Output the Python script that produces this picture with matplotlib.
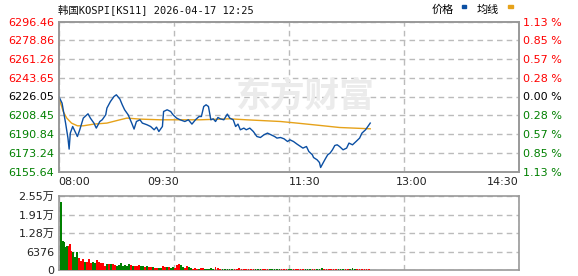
import numpy as np
import matplotlib
matplotlib.use("Agg")
import matplotlib.pyplot as plt

# ---- data ----
prev_close = 6226.05
price_ticks = [6155.64, 6173.24, 6190.84, 6208.45, 6226.05, 6243.65, 6261.26, 6278.86, 6296.46]
pct_labels = ["1.13 %", "0.85 %", "0.57 %", "0.28 %", "0.00 %", "0.28 %", "0.57 %", "0.85 %", "1.13 %"]
time_labels = ["08:00", "09:30", "11:30", "13:00", "14:30"]

price_min = [0, 3, 6, 8, 9, 10, 12, 14, 16, 18, 21, 25, 27, 30, 32, 35, 37, 40, 41, 44,
             47, 49, 52, 54, 56, 59, 62, 64, 66, 69, 71, 75, 78, 81, 83, 85, 88, 89, 92, 95,
             97, 100, 103, 107, 110, 113, 116, 119, 121, 123, 125, 127, 129, 131, 133, 135, 137, 140, 143, 145,
             148, 150, 152, 154, 157, 159, 162, 165, 168, 171, 174, 177, 180, 183, 185, 188, 191, 194, 196, 199,
             202, 205, 207, 210, 212, 215, 216, 219, 221, 222, 224, 226, 228, 230, 232, 234, 236, 238, 241, 244,
             246, 249, 252, 255, 257, 260, 262, 264]
price = [6226.71, 6219.85, 6201.08, 6187.00, 6176.67, 6191.69, 6197.89, 6193.19, 6188.50, 6194.79,
         6205.77, 6209.81, 6205.77, 6201.08, 6196.38, 6202.58, 6204.18, 6208.87, 6215.16, 6221.36,
         6226.05, 6227.65, 6223.61, 6218.26, 6213.56, 6208.87, 6201.08, 6195.45, 6202.58, 6204.18,
         6201.08, 6199.48, 6197.89, 6194.79, 6197.32, 6193.19, 6197.89, 6211.97, 6213.56, 6211.97,
         6208.87, 6205.77, 6204.18, 6202.58, 6204.18, 6200.14, 6204.18, 6207.27, 6207.27, 6216.66,
         6218.26, 6216.66, 6204.18, 6205.11, 6202.58, 6206.34, 6205.11, 6204.18, 6209.53, 6205.77,
         6204.18, 6197.89, 6200.14, 6194.79, 6196.38, 6194.79, 6196.38, 6193.19, 6188.50, 6187.56,
         6190.09, 6191.69, 6190.09, 6188.50, 6187.00, 6187.56, 6186.34, 6183.80, 6185.40, 6183.80,
         6181.36, 6179.11, 6177.61, 6179.11, 6174.42, 6171.32, 6168.78, 6166.62, 6164.09, 6159.40,
         6163.53, 6167.56, 6171.32, 6172.91, 6176.01, 6180.05, 6180.71, 6179.11, 6176.01, 6177.61,
         6182.30, 6180.71, 6183.80, 6187.00, 6191.69, 6194.79, 6197.89, 6201.08]

avg_min = [0, 4, 7, 11, 16, 21, 30, 41, 52, 58, 69, 86, 120, 145, 159, 188, 202, 222, 238, 250, 264]
avg_price = [6226.05, 6211.97, 6205.77, 6201.08, 6198.54, 6198.54, 6200.14, 6201.08, 6204.18, 6205.77,
             6204.83, 6204.18, 6204.18, 6205.11, 6204.18, 6202.58, 6201.08, 6198.82, 6196.95, 6196.38,
             6195.73]

vol_ticks = [0, 6376, 12752, 19128, 25504]
vol_tick_labels = ["0", "6376", "1.28万", "1.91万", "2.55万"]

vol_min = [2.3, 3.1, 4.0, 4.8, 6.5, 7.4, 8.2, 9.1, 9.9, 10.8, 12.5, 13.3, 14.1, 15.8, 17.5, 19.2, 20.9,
           22.6, 24.3, 26.0, 27.7, 29.4, 31.1, 32.8, 34.5, 36.2, 37.8, 39.5, 41.2, 42.9, 44.6, 46.3, 48.0,
           49.7, 51.4, 53.1, 54.8, 56.5, 58.2, 59.9, 61.6, 63.2, 64.9, 66.6, 68.3, 70.0, 71.7, 73.4, 75.1,
           76.8, 78.5, 80.2, 81.9, 83.6, 85.3, 87.0, 88.7, 90.4, 92.0, 93.7, 95.4, 97.1, 98.8, 100.5, 102.2,
           103.9, 105.6, 107.3, 109.0, 110.7, 112.4, 114.1, 115.7, 117.4, 119.1, 120.8, 122.5, 124.2, 125.9,
           127.6, 129.3, 131.0,
           133, 135, 137, 139, 141, 143, 145, 147, 149, 151, 153, 155, 157, 159, 161, 163, 165, 167, 169,
           171, 173, 175, 177, 179, 181, 183, 185, 187, 189, 191, 193, 195, 197, 199, 201, 203, 205, 207,
           209, 211, 213, 215, 217, 219, 221, 223, 225, 227, 229, 231, 233, 235, 237, 239, 241, 243, 245,
           247, 249, 251, 253, 255, 257, 259, 261, 263]
vol = [23460, 7140, 10110, 9760, 7830, 8280, 7140, 8280, 8970, 6660, 6310, 4040, 4590, 6310, 4140, 3210,
       3690, 2860, 2860, 3800, 2520, 2860, 2520, 3450, 2760, 2520, 2310, 1380, 2070, 2070, 2070, 2070,
       1730, 1380, 1730, 2310, 1380, 1730, 1380, 2070, 1730, 1380, 1380, 1380, 1730, 1380, 1380, 1140,
       1380, 1140, 1140, 1140, 790, 790, 790, 790, 1380, 930, 930, 930, 790, 930, 690, 1620, 2070, 1620,
       1140, 690, 1380, 930, 690, 450, 690, 450, 450, 690, 690, 450, 345, 450, 690, 345,
       1040, 690, 345, 345, 345, 345, 345, 345, 345, 345, 690, 345, 345, 345, 345, 345, 345, 345, 345,
       345, 345, 345, 345, 345, 345, 345, 345, 345, 345, 345, 345, 345, 345, 345, 345, 345, 345, 345,
       345, 345, 345, 345, 345, 345, 345, 690, 345, 345, 345, 345, 345, 345, 345, 345, 345, 345, 345,
       345, 690, 345, 345, 345, 345, 345, 345, 345]
# 1 = up (red), -1 = down (green)
vol_dir = [-1, -1, -1, -1, -1, -1, -1, 1, 1, 1, -1, -1, -1, -1, 1, 1, 1, -1, 1, 1, 1, -1, -1, 1, 1, 1,
           1, 1, -1, 1, -1, 1, 1, -1, -1, -1, -1, -1, -1, -1, 1, -1, 1, 1, 1, -1, -1, 1, -1, 1, 1, -1,
           1, 1, -1, -1, 1, 1, -1, 1, -1, -1, 1, 1, 1, -1, -1, 1, 1, -1, -1, 1, 1, 1, -1, 1, 1, -1, -1,
           -1, -1, -1,
           1, 1, 1, -1, -1, -1, -1, -1, 1, 1, 1, 1, 1, 1, 1, 1, 1, -1, -1, -1, 1, 1, 1, -1, -1, -1, -1,
           -1, 1, 1, 1, -1, -1, 1, 1, 1, 1, 1, -1, -1, -1, 1, 1, -1, -1, -1, 1, 1, 1, 1, 1, 1, -1, -1,
           -1, 1, 1, -1, -1, -1, 1, 1, 1, 1, 1, 1]

RED = "#FF0000"
GREEN = "#008000"
GRID = "#BBBBBB"
SPINE = "#999999"
TOTAL_MIN = 390
quarters = [TOTAL_MIN * k / 4 for k in range(5)]

fig = plt.figure(figsize=(5.78, 2.76), dpi=100)
W, H = 578.0, 276.0


def box(l, t, r, b):
    return [l / W, 1 - b / H, (r - l) / W, (b - t) / H]


ax = fig.add_axes(box(58.5, 21.5, 519, 171.5))
axv = fig.add_axes(box(58.5, 196, 519, 270))

# watermark
fig.text(305 / W, 1 - 96 / H, "东方财富", fontsize=25, fontweight="bold", color="#EBEBEB",
         family="Noto Sans CJK SC", ha="center", va="center", zorder=0)

# dashed grid through the axes grid machinery
for a in (ax, axv):
    a.grid(True, which="major", axis="both", color=GRID, linestyle="--", linewidth=1.0,
           dashes=(4, 3))
    a.set_axisbelow(True)

ax.plot(avg_min, avg_price, color="#E6A21A", lw=1.0, zorder=3)
ax.plot(price_min, price, color="#0B4FA3", lw=1.0, zorder=4)
ax.set_xlim(0, TOTAL_MIN)
ax.set_ylim(price_ticks[0], price_ticks[-1])
ax.set_yticks(price_ticks)
ax.set_xticks(quarters)
ax.set_xticklabels([])
ax.set_yticklabels(["%.2f" % v for v in price_ticks])
for lab, v in zip(ax.get_yticklabels(), price_ticks):
    lab.set_color("black" if abs(v - prev_close) < 0.01 else (RED if v > prev_close else GREEN))

axr = ax.twinx()
axr.set_ylim(price_ticks[0], price_ticks[-1])
axr.set_yticks(price_ticks)
axr.set_yticklabels(pct_labels)
for lab, v in zip(axr.get_yticklabels(), price_ticks):
    lab.set_color("black" if abs(v - prev_close) < 0.01 else (RED if v > prev_close else GREEN))

colors = [RED if d > 0 else GREEN for d in vol_dir]
axv.bar(vol_min, vol, width=1.3, color=colors, linewidth=0, zorder=3)
axv.set_xlim(0, TOTAL_MIN)
axv.set_ylim(0, vol_ticks[-1])
axv.set_yticks(vol_ticks)
axv.set_yticklabels(vol_tick_labels)
axv.set_xticks(quarters)
axv.set_xticklabels([])

for a in (ax, axr, axv):
    for s in a.spines.values():
        s.set_color(SPINE)
        s.set_linewidth(1.2)
    a.tick_params(length=0, labelsize=8, pad=3)
for lab in axv.get_yticklabels():
    lab.set_family(["DejaVu Sans", "Noto Sans CJK SC"])
    lab.set_color("#222222")

# time labels under the price panel
label_pos = [(58, "left"), (163, "center"), (305, "center"), (412, "center"), (519, "right")]
for (px, ha), txt in zip(label_pos, time_labels):
    fig.text(px / W, 1 - 182 / H, txt, fontsize=8, ha=ha, va="center", color="#222222")

# title and legend
fig.text(58 / W, 1 - 10 / H, "韩国KOSPI[KS11] 2026-04-17 12:25", fontsize=7.5,
         family=["DejaVu Sans Mono", "Noto Sans CJK SC"], ha="left", va="center", color="#111111")
fig.text(432 / W, 1 - 10 / H, "价格", fontsize=8, family="Noto Sans CJK SC", ha="left", va="center")
fig.text(477 / W, 1 - 10 / H, "均线", fontsize=8, family="Noto Sans CJK SC", ha="left", va="center")
fig.patches.append(plt.Rectangle((462 / W, 1 - 8 / H), 4 / W, 3 / H, color="#0B4FA3",
                                 transform=fig.transFigure, figure=fig))
fig.patches.append(plt.Rectangle((508 / W, 1 - 8 / H), 5 / W, 3 / H, color="#E6A21A",
                                 transform=fig.transFigure, figure=fig))

fig.savefig("out.png", dpi=100)
